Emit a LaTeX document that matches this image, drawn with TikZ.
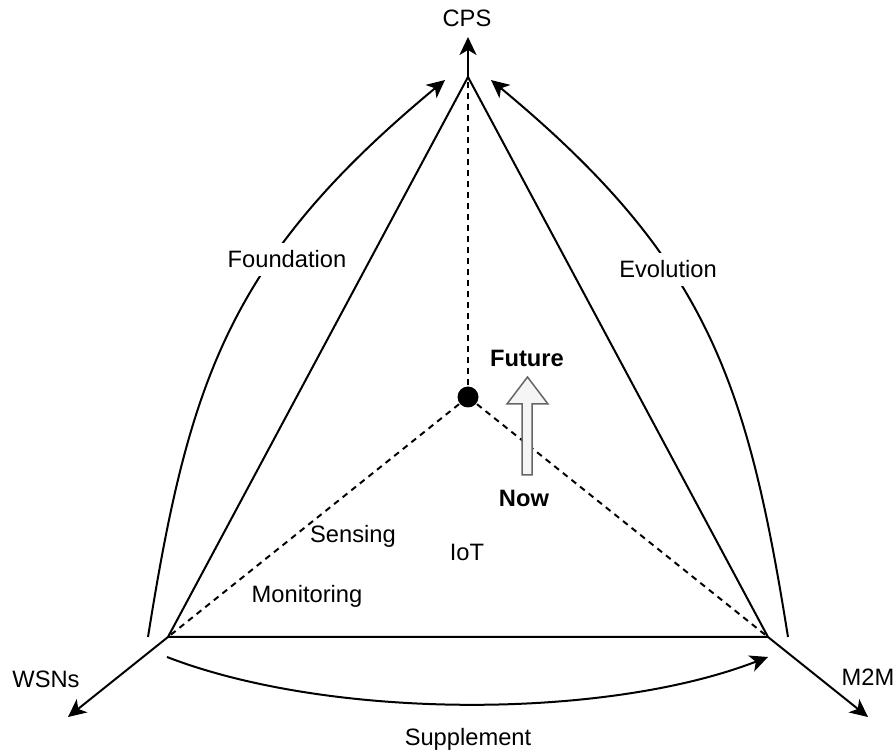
\documentclass[tikz,border=0pt]{standalone}
\usepackage{fontspec}
\setmainfont{Liberation Sans}
\usetikzlibrary{arrows.meta}

\begin{document}
\begin{tikzpicture}
[x=0.5pt,y=-0.5pt,line width=1pt,>={Stealth[length=9pt,width=8.5pt,inset=2.5pt]},
 every node/.style={font=\fontsize{11.85}{14}\selectfont}]
\tikzstyle{dot node}=[circle,fill,inner sep=0,minimum size=10.5pt]
\tikzstyle{edge label}=[fill=white,inner sep=4pt,anchor=base]
\tikzstyle{plain label}=[inner sep=0,anchor=base]
\tikzstyle{axis}=[->]
\tikzstyle{flow}=[->]
\tikzstyle{spoke}=[dash pattern=on 3pt off 2.5pt]
\tikzstyle{block arrow}=[fill=black!4,draw=black!60,line width=0.75pt]

\useasboundingbox (0,0) rectangle (896,753);

\coordinate(cps) at (468,77);
\coordinate(wsn) at (168,637);
\coordinate(mtm) at (768,637);
\coordinate(cps end) at (468,37);
\coordinate(wsn end) at (68,717);
\coordinate(mtm end) at (868,717);
\node(c)[dot node] at (468,397){};

\draw (cps)--(wsn)--(mtm)--cycle;
\draw[axis](cps)--(cps end);
\draw[axis](wsn)--(wsn end);
\draw[axis](mtm)--(mtm end);

\draw[spoke](c)--(cps);
\draw[spoke](c)--(wsn);
\draw[spoke](c)--(mtm);

\coordinate(f0) at (148,637);
\coordinate(f1) at (445,80);
\coordinate(e0) at (788,637);
\coordinate(e1) at (491,80);
\coordinate(s0) at (167,657);
\coordinate(s1) at (768,657);
\draw[flow](f0) .. controls (189,380) and (229,259) .. (f1);
\draw[flow](e0) .. controls (747,380) and (707,259) .. (e1);
\draw[flow](s0) .. controls (330,720) and (605,720) .. (s1);

\draw[block arrow] (522,475)--(522,404)--(507,404)--(527.5,377)--(548,404)--(532,404)--(532,475)--cycle;

\node(cps label)[plain label] at (467,27){CPS};
\node(wsn label)[plain label] at (46,688){WSNs};
\node(mtm label)[plain label] at (868,686){M2M};
\node(sup label)[plain label] at (468,746){Supplement};
\node(fnd label)[edge label] at (287,268){Foundation};
\node(evo label)[edge label] at (668,278){Evolution};
\node(sen label)[plain label] at (353,543){Sensing};
\node(iot label)[plain label] at (467,561){IoT};
\node(mon label)[plain label] at (307,603){Monitoring};
\node(fut label)[plain label,font=\fontsize{11.85}{14}\selectfont\bfseries] at (527,367){Future};
\node(now label)[plain label,font=\fontsize{11.85}{14}\selectfont\bfseries] at (524,507){Now};
\end{tikzpicture}
\end{document}
